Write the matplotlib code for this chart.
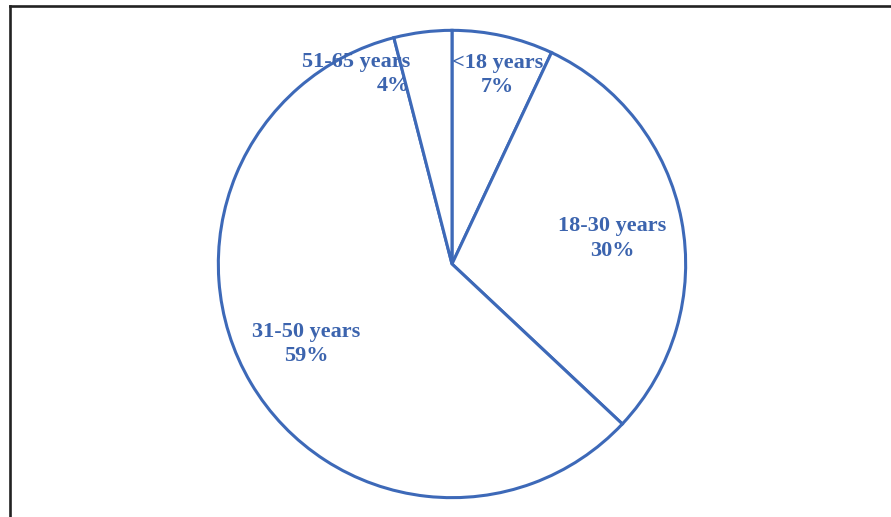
import matplotlib.pyplot as plt
from matplotlib.lines import Line2D

labels = ["<18 years", "18-30 years", "31-50 years", "51-65 years"]
shares = [7, 30, 59, 4]

# label placement (pie radius units)
label_pos = [(0.195, 0.809), (0.686, 0.11), (-0.623, -0.343), (-0.178, 0.814)]
label_ha = ["center", "center", "center", "right"]

blue = "#3D69B8"
txt_blue = "#3C64AE"

W, H = 891, 517
fig = plt.figure(figsize=(W / 100, H / 100), dpi=100)

cx, cy, r = 452, 264, 236
ax = fig.add_axes([(cx - r) / W, (H - cy - r) / H, 2 * r / W, 2 * r / H])
ax.pie(shares, startangle=90, counterclock=False, radius=1,
       colors=["white"] * len(shares),
       wedgeprops=dict(edgecolor=blue, linewidth=2.2))
ax.set_xlim(-1.01, 1.01)
ax.set_ylim(-1.01, 1.01)
ax.set_aspect("equal")
ax.axis("off")

for lab, val, (x, y), ha in zip(labels, shares, label_pos, label_ha):
    ax.text(x, y, f"{lab}\n{val}%", ha=ha, va="center", multialignment=ha,
            fontsize=16, fontweight="bold", family="Liberation Serif",
            color=txt_blue, linespacing=1.3)

# frame around the chart (left and top edges visible)
xl = 9.5 / W
yt = 1 - 6 / H
fig.add_artist(Line2D([xl, xl], [0, yt], transform=fig.transFigure, color="#222222", lw=1.9))
fig.add_artist(Line2D([xl, 1], [yt, yt], transform=fig.transFigure, color="#222222", lw=1.9))

fig.savefig("out.png", dpi=100)
